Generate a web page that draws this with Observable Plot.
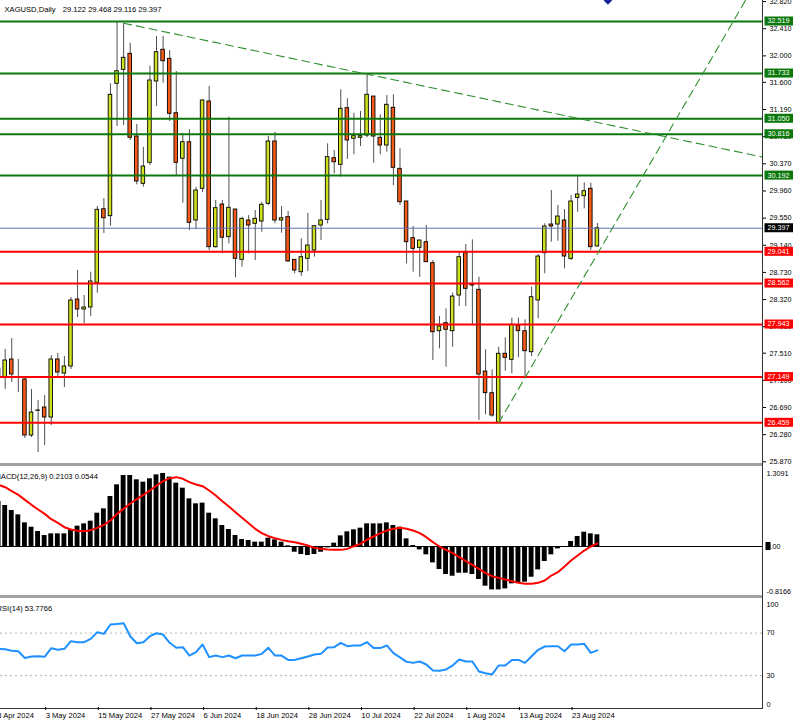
<!DOCTYPE html>
<html><head><meta charset="utf-8">
<script src="https://cdn.jsdelivr.net/npm/d3@7"></script>
<script src="https://cdn.jsdelivr.net/npm/@observablehq/plot@0.6"></script>
<style>
html,body{margin:0;padding:0;background:#fff;}
#wrap{position:relative;width:793px;height:723px;overflow:hidden;background:#fff;}
.panel{position:absolute;left:0;width:793px;}
.sep{position:absolute;left:0;width:763px;background:#a0a0a0;}
</style></head><body>
<div id="wrap">
  <div class="sep" style="top:462.5px;height:3px"></div>
  <div class="sep" style="top:595px;height:3px"></div>
  <div style="position:absolute;left:762px;top:0;width:1px;height:708px;background:#333"></div>
  <div style="position:absolute;left:0;top:707.5px;width:763px;height:1px;background:#333"></div>
  <div id="p1" class="panel" style="top:0"></div>
  <div id="p2" class="panel" style="top:463px"></div>
  <div id="p3" class="panel" style="top:597px"></div>
</div>
<script>
// ---------------- DATA ----------------
const tradingDays = ["2024-04-24","2024-04-25","2024-04-26","2024-04-29","2024-04-30","2024-05-01","2024-05-02","2024-05-03","2024-05-06","2024-05-07","2024-05-08","2024-05-09","2024-05-10","2024-05-13","2024-05-14","2024-05-15","2024-05-16","2024-05-17","2024-05-20","2024-05-21","2024-05-22","2024-05-23","2024-05-24","2024-05-27","2024-05-28","2024-05-29","2024-05-30","2024-05-31","2024-06-03","2024-06-04","2024-06-05","2024-06-06","2024-06-07","2024-06-10","2024-06-11","2024-06-12","2024-06-13","2024-06-14","2024-06-17","2024-06-18","2024-06-19","2024-06-20","2024-06-21","2024-06-24","2024-06-25","2024-06-26","2024-06-27","2024-06-28","2024-07-01","2024-07-02","2024-07-03","2024-07-04","2024-07-05","2024-07-08","2024-07-09","2024-07-10","2024-07-11","2024-07-12","2024-07-15","2024-07-16","2024-07-17","2024-07-18","2024-07-19","2024-07-22","2024-07-23","2024-07-24","2024-07-25","2024-07-26","2024-07-29","2024-07-30","2024-07-31","2024-08-01","2024-08-02","2024-08-05","2024-08-06","2024-08-07","2024-08-08","2024-08-09","2024-08-12","2024-08-13","2024-08-14","2024-08-15","2024-08-16","2024-08-19","2024-08-20","2024-08-21","2024-08-22","2024-08-23","2024-08-26","2024-08-27","2024-08-28","2024-08-29"];

const open = [27.143,27.143,27.415,27.135,27.113,26.267,26.645,26.690,26.539,27.415,
 27.203,27.309,28.321,28.170,28.200,28.573,29.684,29.579,31.578,31.789,
 32.031,30.782,30.068,30.385,31.613,32.092,31.956,31.134,30.446,30.696,
 29.514,29.993,31.311,29.111,29.755,29.262,29.680,28.920,29.514,29.464,
 29.499,29.766,30.707,29.514,29.564,28.920,28.733,28.935,29.061,29.438,
 29.524,30.455,30.355,31.210,30.748,30.763,30.797,31.386,30.763,30.646,
 31.216,30.294,29.801,29.247,29.101,29.186,28.869,27.842,27.963,27.842,
 28.381,29.020,28.547,28.467,27.233,26.906,26.459,27.501,27.410,27.928,
 27.842,27.525,28.306,29.020,29.453,29.453,29.514,28.935,29.856,29.881,
 29.993,29.122];
const high = [27.400,27.566,27.732,27.415,27.128,26.962,26.796,26.871,27.475,27.505,
 27.460,28.351,28.759,28.381,28.733,29.725,29.846,31.578,32.519,32.493,
 32.191,30.963,30.621,31.844,32.292,32.292,32.081,31.764,30.828,30.883,
 30.017,31.336,31.537,29.816,29.816,31.074,29.680,29.564,29.589,29.665,
 29.790,30.782,30.847,29.725,29.650,28.920,29.237,29.624,29.428,29.816,
 30.672,30.571,31.487,31.352,31.134,31.160,31.729,31.386,31.110,31.401,
 31.412,30.597,29.801,29.423,29.212,29.438,28.910,28.064,28.180,28.416,
 29.035,29.151,29.222,28.657,27.561,27.259,27.600,27.742,28.039,28.039,
 28.014,28.507,29.000,29.464,29.967,29.740,29.680,29.891,30.193,30.083,
 30.077,29.468];
const low = [26.970,26.962,27.068,26.917,26.222,26.237,26.010,26.116,26.418,27.158,
 26.992,27.264,28.049,27.958,28.064,28.416,29.317,29.428,30.933,30.948,
 30.722,30.053,30.017,30.344,31.235,31.587,31.009,30.178,29.775,29.363,
 29.373,29.937,29.061,29.096,29.011,29.162,28.648,28.809,29.011,28.910,
 29.337,29.740,29.464,29.322,28.884,28.709,28.668,28.743,28.960,29.212,
 29.464,30.219,30.168,30.435,30.506,30.631,30.763,30.379,30.506,30.545,
 30.042,29.740,28.860,28.733,28.657,28.880,27.400,27.576,27.299,27.600,
 28.215,28.215,27.943,26.494,26.580,26.544,26.459,27.238,27.199,27.440,
 27.148,27.460,28.029,28.709,29.186,29.201,28.784,28.910,29.639,29.690,
 29.061,29.116];
const close = [27.279,27.400,27.188,27.140,26.267,26.614,26.640,26.539,27.415,27.218,
 27.309,28.306,28.170,28.200,28.593,29.675,29.548,31.412,31.768,31.971,
 30.763,30.103,30.329,31.628,32.055,31.919,31.125,30.385,30.696,29.479,
 29.967,31.326,29.111,29.700,29.253,29.706,28.935,29.539,29.438,29.539,
 29.751,30.707,29.514,29.548,28.895,28.759,28.960,29.136,29.428,29.514,
 30.470,30.394,31.201,30.722,30.787,30.787,31.412,30.782,30.646,31.261,
 30.310,29.790,29.186,29.086,29.212,28.884,27.827,27.913,27.863,28.366,
 28.960,28.482,28.532,27.188,26.906,26.569,27.501,27.440,27.939,27.842,
 27.540,28.356,28.970,29.423,29.423,29.574,28.970,29.801,29.906,29.956,
 29.111,29.397];

const macdHist = [0.806,0.735,0.645,0.567,0.424,0.346,0.269,0.197,0.227,0.227,
 0.227,0.305,0.364,0.406,0.454,0.597,0.675,0.896,1.105,1.272,
 1.272,1.195,1.153,1.213,1.284,1.309,1.243,1.135,1.045,0.854,
 0.765,0.777,0.597,0.496,0.376,0.305,0.197,0.125,0.108,0.078,
 0.078,0.149,0.119,0.078,0.012,-0.102,-0.143,-0.161,-0.143,-0.102,
 -0.024,0.060,0.191,0.263,0.299,0.329,0.406,0.406,0.406,0.424,
 0.376,0.346,0.137,0.018,-0.060,-0.149,-0.293,-0.412,-0.502,-0.532,
 -0.478,-0.478,-0.502,-0.591,-0.711,-0.777,-0.777,-0.759,-0.669,-0.651,
 -0.639,-0.550,-0.418,-0.269,-0.149,-0.042,-0.012,0.090,0.179,0.257,
 0.227,0.2103];
const macdSignal = [1.105,1.063,0.992,0.926,0.836,0.747,0.663,0.585,0.490,0.424,
 0.346,0.305,0.281,0.275,0.293,0.335,0.388,0.466,0.585,0.675,
 0.771,0.848,0.926,1.004,1.093,1.171,1.225,1.243,1.213,1.153,
 1.111,1.081,1.004,0.914,0.812,0.717,0.615,0.514,0.418,0.317,
 0.239,0.185,0.149,0.119,0.096,0.078,0.048,0.018,-0.024,-0.042,
 -0.054,-0.060,-0.060,-0.042,0.006,0.048,0.125,0.179,0.239,0.287,
 0.317,0.335,0.317,0.287,0.239,0.167,0.078,0.000,-0.060,-0.119,
 -0.191,-0.263,-0.329,-0.400,-0.478,-0.532,-0.562,-0.591,-0.621,-0.651,
 -0.669,-0.669,-0.651,-0.609,-0.520,-0.460,-0.358,-0.251,-0.161,-0.072,
 0.000,0.0544];
const rsi = [55.2,54.9,53.3,53.0,46.5,48.0,48.3,47.7,55.8,54.3,
 55.2,62.4,61.5,61.5,64.6,70.9,69.3,78.1,78.7,79.4,
 67.1,60.5,61.5,67.1,69.9,68.7,60.9,56.2,56.8,48.9,
 52.1,59.3,47.4,48.9,47.4,48.9,46.4,48.9,48.9,48.9,
 50.5,56.2,48.9,48.9,44.8,44.8,46.4,48.0,49.9,50.5,
 56.5,56.8,60.9,57.7,58.4,58.4,61.5,55.9,55.9,58.4,
 51.2,47.1,43.0,42.0,43.3,40.5,34.8,34.5,35.8,39.5,
 45.2,43.3,43.3,33.9,32.3,31.1,39.5,39.5,44.8,44.8,
 42.0,48.3,54.3,57.4,57.7,57.7,53.0,59.3,59.3,59.9,
 51.4,53.8];

const resistanceLevels = [32.519, 31.733, 31.050, 30.816, 30.192];
const supportLevels = [29.041, 28.562, 27.943, 27.149, 26.459];
const bidPrice = 29.397;
const priceTicks = [32.820,32.410,32.000,31.600,31.190,30.780,30.370,29.960,29.550,29.140,28.730,28.320,27.910,27.510,27.100,26.690,26.280,25.870];
const downTrend = [{i:19, p:32.493}, {i:116.2, p:30.470}];
const upTrend = [{i:76, p:26.459}, {i:113.5, p:32.836}];
const markers = [{i:92.6, p:32.836}];

const macdAxisValues = [1.3091, 0, -0.8166];
const macdAxisText = ["1.3091", "0.00", "-0.8166"];
const rsiLevels = [70, 30];
const rsiAxisValues = [100, 70, 30, 0];

const tickBars = [-1, 7, 15, 23, 31, 39, 47, 55, 63, 71, 79, 87];
const tickLabels = ["23 Apr 2024","3 May 2024","15 May 2024","27 May 2024","6 Jun 2024","18 Jun 2024","28 Jun 2024","10 Jul 2024","22 Jul 2024","1 Aug 2024","13 Aug 2024","23 Aug 2024"];

const symbolTitle = "XAGUSD,Daily";
const ohlcTitle = "29.122 29.468 29.116 29.397";
const macdTitle = "MACD(12,26,9) 0.2103 0.0544";
const rsiTitle = "RSI(14) 53.7766";

// ---------------- STYLE ----------------
const FONT = "'Liberation Sans', Arial, Helvetica, sans-serif";
const BULL = "#cfe01e", BEAR = "#f65a18", GREEN = "#0a780a", RED = "#ff0000";
const X = {type:"linear", domain:[0, 91], range:[-1.9, 596.9], axis:null};
const baseStyle = {background:"transparent", overflow:"visible", fontFamily:FONT, fontSize:"7.2px", color:"#000"};

const candles = tradingDays.map((d, i) => ({i, date:d, o:open[i], h:high[i], l:low[i], c:close[i]}));

// ---------------- PRICE PANEL ----------------
const pricePlot = Plot.plot({
  width:793, height:463, marginTop:0, marginRight:31, marginBottom:0, marginLeft:0,
  style: baseStyle,
  x: X,
  y: {type:"linear", domain:[26.459, 32.519], range:[422.3, 21], axis:null},
  marks: [
    Plot.ruleX(candles, {x:"i", y1:"l", y2:"h", stroke:"#505050", strokeWidth:1}),
    Plot.rect(candles, {x1:d => d.i - 0.27, x2:d => d.i + 0.27, y1:"o", y2:"c",
      fill:d => d.c >= d.o ? BULL : BEAR, stroke:"#000", strokeWidth:0.9}),
    Plot.ruleY(resistanceLevels, {stroke:GREEN, strokeWidth:2}),
    Plot.ruleY(supportLevels, {stroke:RED, strokeWidth:2}),
    Plot.ruleY([bidPrice], {stroke:"#6670b8", strokeWidth:1}),
    Plot.line(downTrend, {x:"i", y:"p", stroke:"#2f8f2f", strokeWidth:1.1, strokeDasharray:"8,5", clip:"frame"}),
    Plot.line(upTrend, {x:"i", y:"p", stroke:"#2f8f2f", strokeWidth:1.1, strokeDasharray:"8,5", clip:"frame"}),
    Plot.dot(markers, {x:"i", y:"p", symbol:"diamond2", r:3.8, fill:"#14249c", stroke:"none"}),
    Plot.axisY(priceTicks, {anchor:"right", tickSize:3, tickPadding:4, tickFormat:d3.format(".3f"), fontSize:7.2, label:null}),
    Plot.text([symbolTitle], {frameAnchor:"top-left", dx:4, dy:6, textAnchor:"start", fontSize:7.6, fill:"#000"}),
    Plot.text([ohlcTitle], {frameAnchor:"top-left", dx:62.3, dy:6, textAnchor:"start", fontSize:7.6, fill:"#000"})
  ]
});
document.getElementById("p1").append(pricePlot);

// level label boxes on the right axis, positioned with the plot's y scale
{
  const yS = pricePlot.scale("y");
  const g = d3.select(pricePlot).append("g")
    .attr("font-family", FONT).attr("font-size", 7.2).attr("text-anchor", "start");
  const boxes = [
    ...resistanceLevels.map(p => ({p, fill:GREEN})),
    ...supportLevels.map(p => ({p, fill:RED})),
    {p:bidPrice, fill:"#000"}
  ];
  for (const b of boxes) {
    const y = yS.apply(b.p);
    g.append("rect").attr("x", 764.5).attr("y", y - 4.5).attr("width", 30).attr("height", 9).attr("fill", b.fill);
    g.append("text").attr("x", 767.5).attr("y", y).attr("dy", "0.34em")
      .attr("text-anchor", "start").attr("fill", "#fff").text(b.p.toFixed(3));
  }
}

// ---------------- MACD PANEL ----------------
const macdRows = tradingDays.map((d, i) => ({i, h:macdHist[i], s:macdSignal[i]}));
const macdPlot = Plot.plot({
  width:793, height:134, marginTop:0, marginRight:31, marginBottom:0, marginLeft:0,
  style: baseStyle,
  x: X,
  y: {type:"linear", domain:[-0.8166, 1.3091], range:[128.6, 9.95], axis:null},
  marks: [
    Plot.rect(macdRows, {x1:d => d.i - 0.37, x2:d => d.i + 0.37, y1:() => 0, y2:"h", fill:"#000"}),
    Plot.ruleY([0], {stroke:"#000", strokeWidth:1}),
    Plot.line(macdRows, {x:"i", y:"s", stroke:"#ff0000", strokeWidth:2}),
    Plot.text(macdAxisValues, {y:d => d, text:(d, k) => macdAxisText[k], frameAnchor:"right", dx:4, textAnchor:"start", fontSize:7.2, fill:"#000"}),
    Plot.text([macdTitle], {frameAnchor:"top-left", dx:-6, dy:10, textAnchor:"start", fontSize:7.6, fill:"#000"})
  ]
});
document.getElementById("p2").append(macdPlot);
{
  const yS = macdPlot.scale("y");
  const y0 = yS.apply(0);
  d3.select(macdPlot).insert("rect", ":first-child").attr("x", 765.5).attr("y", y0 - 4).attr("width", 5).attr("height", 8).attr("fill", "#000");
}

// ---------------- RSI PANEL ----------------
const rsiRows = tradingDays.map((d, i) => ({i, v:rsi[i]}));
const labelByBar = new Map(tickBars.map((b, k) => [b, tickLabels[k]]));
const rsiPlot = Plot.plot({
  width:793, height:126, marginTop:0, marginRight:31, marginBottom:16, marginLeft:0,
  style: baseStyle,
  x: X,
  y: {type:"linear", domain:[0, 100], range:[110, 3.75], axis:null},
  marks: [
    Plot.ruleY(rsiLevels, {stroke:"#b4b4b4", strokeWidth:1, strokeDasharray:"2,3"}),
    Plot.line(rsiRows, {x:"i", y:"v", stroke:"#1e90ff", strokeWidth:2}),
    Plot.text(rsiAxisValues.filter(v => v > 0 && v < 100), {y:d => d, text:d => String(d), frameAnchor:"right", dx:4, textAnchor:"start", fontSize:7.2, fill:"#000"}),
    Plot.text(rsiAxisValues.filter(v => v === 100), {y:d => d, text:d => String(d), frameAnchor:"right", dx:4, dy:3.5, textAnchor:"start", fontSize:7.2, fill:"#000"}),
    Plot.text(rsiAxisValues.filter(v => v === 0), {y:d => d, text:d => String(d), frameAnchor:"right", dx:4, dy:-3.3, textAnchor:"start", fontSize:7.2, fill:"#000"}),
    Plot.text([rsiTitle], {frameAnchor:"top-left", dx:-4, dy:8, textAnchor:"start", fontSize:7.6, fill:"#000"}),
    Plot.axisX(tickBars, {anchor:"bottom", tickSize:3, tickPadding:2, tickFormat:d => labelByBar.get(d), textAnchor:"start", dx:1, fontSize:7.6, label:null})
  ]
});
document.getElementById("p3").append(rsiPlot);
</script>
</body></html>
